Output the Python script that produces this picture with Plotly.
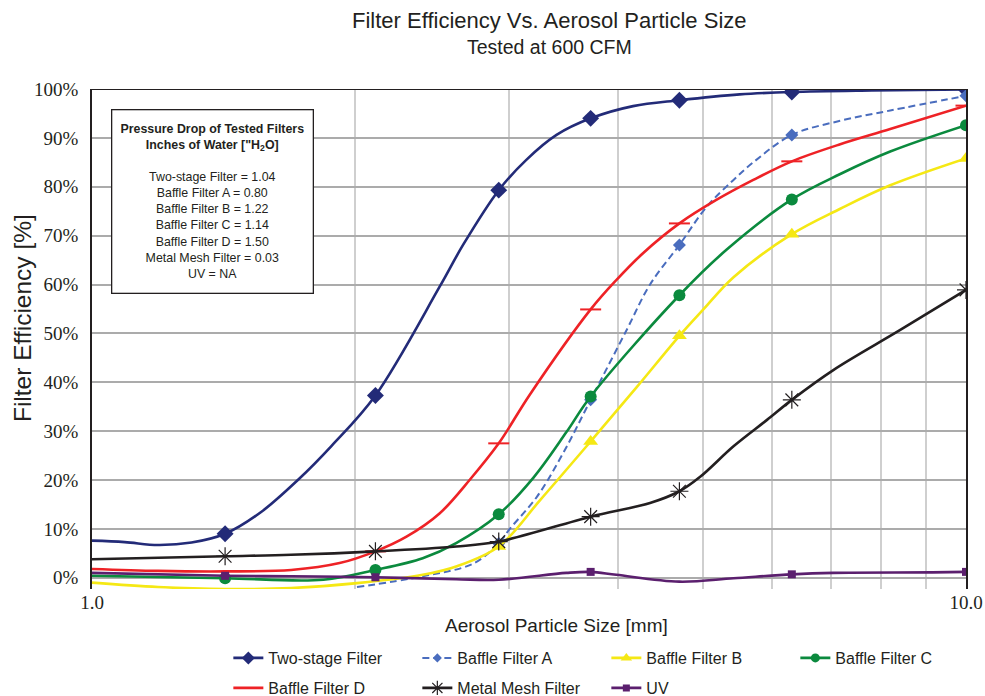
import plotly.graph_objects as go

# ---------------- data ----------------
# Two-stage Filter
two_line_x = [1.0, 1.09, 1.19, 1.30, 1.42, 1.56, 1.72, 1.88, 2.11, 2.50, 2.66, 2.92,
              3.14, 3.40, 3.72, 4.16, 4.70, 5.51, 6.32, 7.8, 10.0]
two_line_y = [7.6, 7.3, 6.7, 7.2, 9.0, 13.4, 20.0, 27.0, 37.3, 59.6, 68.2, 79.3,
              85.5, 90.6, 94.0, 96.5, 97.7, 98.9, 99.4, 99.7, 99.9]
two_mk_x = [1.42, 2.11, 2.92, 3.72, 4.70, 6.32, 10.0]
two_mk_y = [9.0, 37.3, 79.3, 94.0, 97.7, 99.4, 99.9]

# Baffle Filter A
a_line_x = [2.01, 2.39, 2.73, 2.92, 3.0, 3.23, 3.46, 3.72, 4.09, 4.35, 4.70, 5.05, 5.42, 5.71, 6.32,
            7.18, 8.19, 10.0]
a_line_y = [-1.9, 0.3, 2.9, 7.0, 9.8, 16.6, 25.5, 36.4, 50.7, 60.0, 68.1, 75.9, 81.4, 85.0, 90.6,
            93.5, 95.6, 98.6]
a_mk_x = [2.92, 3.72, 4.70, 6.32, 10.0]
a_mk_y = [7.0, 36.4, 68.1, 90.6, 98.6]

# Baffle Filter B
b_line_x = [1.0, 1.19, 1.42, 1.69, 2.01, 2.39, 2.61, 2.92, 3.26, 3.72, 4.20, 4.70,
            5.0, 5.42, 6.32, 7.18, 8.19, 10.0]
b_line_y = [-1.0, -1.9, -2.3, -2.1, -1.1, 0.6, 2.3, 6.4, 16.0, 27.9, 39.0, 49.5,
            54.8, 61.5, 70.3, 75.5, 80.3, 85.8]
b_mk_x = [2.92, 3.72, 4.70, 6.32, 10.0]
b_mk_y = [6.4, 27.9, 49.5, 70.3, 85.8]

# Baffle Filter C
c_line_x = [1.0, 1.42, 1.84, 2.11, 2.39, 2.61, 2.92, 3.2, 3.49, 3.72, 4.70, 5.32, 6.32, 7.18, 8.19, 10.0]
c_line_y = [0.4, -0.1, -0.4, 1.6, 4.0, 7.1, 13.0, 20.5, 29.8, 37.1, 57.8, 67.1, 77.4, 82.6, 87.2, 92.6]
c_mk_x = [1.42, 2.11, 2.92, 3.72, 4.70, 6.32, 10.0]
c_mk_y = [-0.1, 1.6, 13.0, 37.1, 57.8, 77.4, 92.6]

# Baffle Filter D
d_line_x = [1.0, 1.19, 1.42, 1.69, 1.92, 2.11, 2.29, 2.50, 2.71, 2.92, 3.17, 3.72, 3.98,
            4.27, 4.70, 5.18, 5.71, 6.32, 7.18, 8.19, 10.0]
d_line_y = [1.8, 1.4, 1.3, 1.6, 3.0, 5.4, 8.4, 13.2, 20.2, 27.5, 37.5, 54.9, 60.9,
            66.4, 72.5, 77.3, 81.4, 85.2, 88.7, 91.8, 96.6]
d_mk_x = [2.11, 2.92, 3.72, 4.70, 6.32, 10.0]
d_mk_y = [5.4, 27.5, 54.9, 72.5, 85.2, 96.6]

# Metal Mesh Filter
m_line_x = [1.0, 1.42, 1.69, 2.11, 2.61, 2.92, 3.72, 4.35, 4.70, 4.96, 5.42, 5.92, 6.32, 7.05, 8.41, 10.0]
m_line_y = [3.8, 4.4, 4.7, 5.4, 6.4, 7.4, 12.5, 15.3, 17.7, 20.6, 26.9, 32.3, 36.4, 42.5, 50.7, 58.9]
m_mk_x = [1.42, 2.11, 2.92, 3.72, 4.70, 6.32, 10.0]
m_mk_y = [4.4, 5.4, 7.4, 12.5, 17.7, 36.4, 58.9]

# UV
uv_line_x = [1.0, 1.42, 1.69, 2.11, 2.61, 2.92, 3.49, 3.72, 3.98, 4.70, 5.42, 6.32, 7.05, 9.15, 10.0]
uv_line_y = [1.0, 0.4, 0.3, 0.1, -0.3, -0.4, 1.0, 1.2, 0.6, -0.8, -0.1, 0.7, 1.0, 1.1, 1.2]
uv_mk_x = [1.42, 2.11, 3.72, 6.32, 10.0]
uv_mk_y = [0.4, 0.1, 1.2, 0.7, 1.2]

x_tickvals = [1, 2, 3, 4, 5, 6, 7, 8, 9, 10]
x_ticktext = ["1.0", "", "", "", "", "", "", "", "", "10.0"]
y_tickvals = [0, 10, 20, 30, 40, 50, 60, 70, 80, 90, 100]
y_ticktext = ["0%", "10%", "20%", "30%", "40%", "50%", "60%", "70%", "80%", "90%", "100%"]

pressure_lines = [
    "Two-stage Filter = 1.04",
    "Baffle Filter A = 0.80",
    "Baffle Filter B = 1.22",
    "Baffle Filter C = 1.14",
    "Baffle Filter D = 1.50",
    "Metal Mesh Filter = 0.03",
    "UV = NA",
]

# ---------------- styles ----------------
series = [
    dict(name="Two-stage Filter", lx=two_line_x, ly=two_line_y, mx=two_mk_x, my=two_mk_y, lg="legend",
         color="#232B78", dash="solid", width=2.6, symbol="diamond", size=13, mline=0),
    dict(name="Baffle Filter A", lx=a_line_x, ly=a_line_y, mx=a_mk_x, my=a_mk_y, lg="legend",
         color="#4A6DBE", dash="7px,4px", width=2.0, symbol="diamond", size=10, mline=0),
    dict(name="Baffle Filter B", lx=b_line_x, ly=b_line_y, mx=b_mk_x, my=b_mk_y, lg="legend",
         color="#F5E814", dash="solid", width=2.6, symbol="triangle-up", size=13, mline=0),
    dict(name="Baffle Filter C", lx=c_line_x, ly=c_line_y, mx=c_mk_x, my=c_mk_y, lg="legend",
         color="#0B8A3E", dash="solid", width=2.6, symbol="circle", size=12, mline=0),
    dict(name="Baffle Filter D", lx=d_line_x, ly=d_line_y, mx=d_mk_x, my=d_mk_y, lg="legend2",
         color="#EE2226", dash="solid", width=2.6, symbol="line-ew", size=15, mline=2),
    dict(name="Metal Mesh Filter", lx=m_line_x, ly=m_line_y, mx=m_mk_x, my=m_mk_y, lg="legend2",
         color="#231F20", dash="solid", width=2.6, symbol="asterisk-open", size=15, mline=1.2),
    dict(name="UV", lx=uv_line_x, ly=uv_line_y, mx=uv_mk_x, my=uv_mk_y, lg="legend2",
         color="#5B1F6E", dash="solid", width=2.6, symbol="square", size=8, mline=0),
]

fig = go.Figure()
for s in series:
    mk = dict(symbol=s["symbol"], size=s["size"], color=s["color"])
    if s["mline"]:
        mk["line"] = dict(color=s["color"], width=s["mline"])
    # smooth curve
    fig.add_trace(go.Scatter(x=s["lx"], y=s["ly"], mode="lines", showlegend=False,
                             line=dict(color=s["color"], width=s["width"], dash=s["dash"], shape="spline",
                                       smoothing=1.0), hoverinfo="skip"))
    # data markers
    fig.add_trace(go.Scatter(x=s["mx"], y=s["my"], mode="markers", showlegend=False,
                             marker=mk, name=s["name"]))
    # legend entry
    lmk = dict(mk)
    lmk["size"] = max(7, s["size"] - 3)
    fig.add_trace(go.Scatter(x=[None], y=[None], mode="lines+markers", legend=s["lg"],
                             name=s["name"], marker=lmk,
                             line=dict(color=s["color"], width=s["width"], dash=s["dash"])))

box_text = ("<b>Pressure Drop of Tested Filters</b><br><b>Inches of Water [\"H<sub>2</sub>O]</b><br><br>"
            + "<br>".join(pressure_lines))

legend_common = dict(orientation="h", x=0.156, xanchor="left", yanchor="top",
                     font=dict(size=16, family="Liberation Sans, Arial, sans-serif", color="#231F20"),
                     entrywidth=144, entrywidthmode="pixels", bgcolor="rgba(0,0,0,0)")

fig.update_layout(
    width=985, height=696,
    margin=dict(l=92, r=19, t=89, b=107, autoexpand=False),
    paper_bgcolor="white", plot_bgcolor="white",
    font=dict(family="Liberation Sans, Arial, sans-serif", color="#231F20"),
    showlegend=True,
    legend=dict(legend_common, y=-0.104),
    legend2=dict(legend_common, y=-0.164),
    xaxis=dict(type="log", range=[0, 1], tickvals=x_tickvals, ticktext=x_ticktext,
               showgrid=True, gridcolor="#CFCFCF", gridwidth=1.5, showline=False, zeroline=False,
               ticks="", tickfont=dict(family="Liberation Serif", size=19, color="#231F20")),
    yaxis=dict(range=[-2.3, 100], tickvals=y_tickvals, ticktext=y_ticktext,
               showgrid=True, gridcolor="#ABABAB", gridwidth=1.5, zeroline=False,
               showline=True, linecolor="#231F20", linewidth=1.8, mirror=True,
               ticks="", ticklabelstandoff=8,
               tickfont=dict(family="Liberation Serif", size=19, color="#231F20")),
    shapes=[dict(type="line", xref="paper", yref="y", x0=0, x1=1, y0=100, y1=100,
                 line=dict(color="#231F20", width=1.8), layer="above")],
    annotations=[
        dict(text="Filter Efficiency Vs. Aerosol Particle Size", xref="paper", yref="paper",
             x=0.524, y=1.138, xanchor="center", yanchor="middle", showarrow=False,
             font=dict(size=22)),
        dict(text="Tested at 600 CFM", xref="paper", yref="paper",
             x=0.524, y=1.084, xanchor="center", yanchor="middle", showarrow=False,
             font=dict(size=19.5)),
        dict(text="Aerosol Particle Size [mm]", xref="paper", yref="paper",
             x=0.531, y=-0.072, xanchor="center", yanchor="middle", showarrow=False,
             font=dict(size=19)),
        dict(text="Filter Efficiency [%]", xref="paper", yref="paper", textangle=-90,
             x=-0.080, y=0.542, xanchor="center", yanchor="middle", showarrow=False,
             font=dict(size=24.5)),
        dict(text=box_text, xref="paper", yref="paper", x=0.0217, y=0.96, xanchor="left", yanchor="top",
             showarrow=False, align="center", width=198, height=180, valign="middle",
             bordercolor="#231F20", borderwidth=1.3, bgcolor="white", borderpad=1,
             font=dict(size=12.4)),
    ],
)

fig.write_html("out.html", config={"displayModeBar": False},
               post_script="document.body.style.margin='0';")
